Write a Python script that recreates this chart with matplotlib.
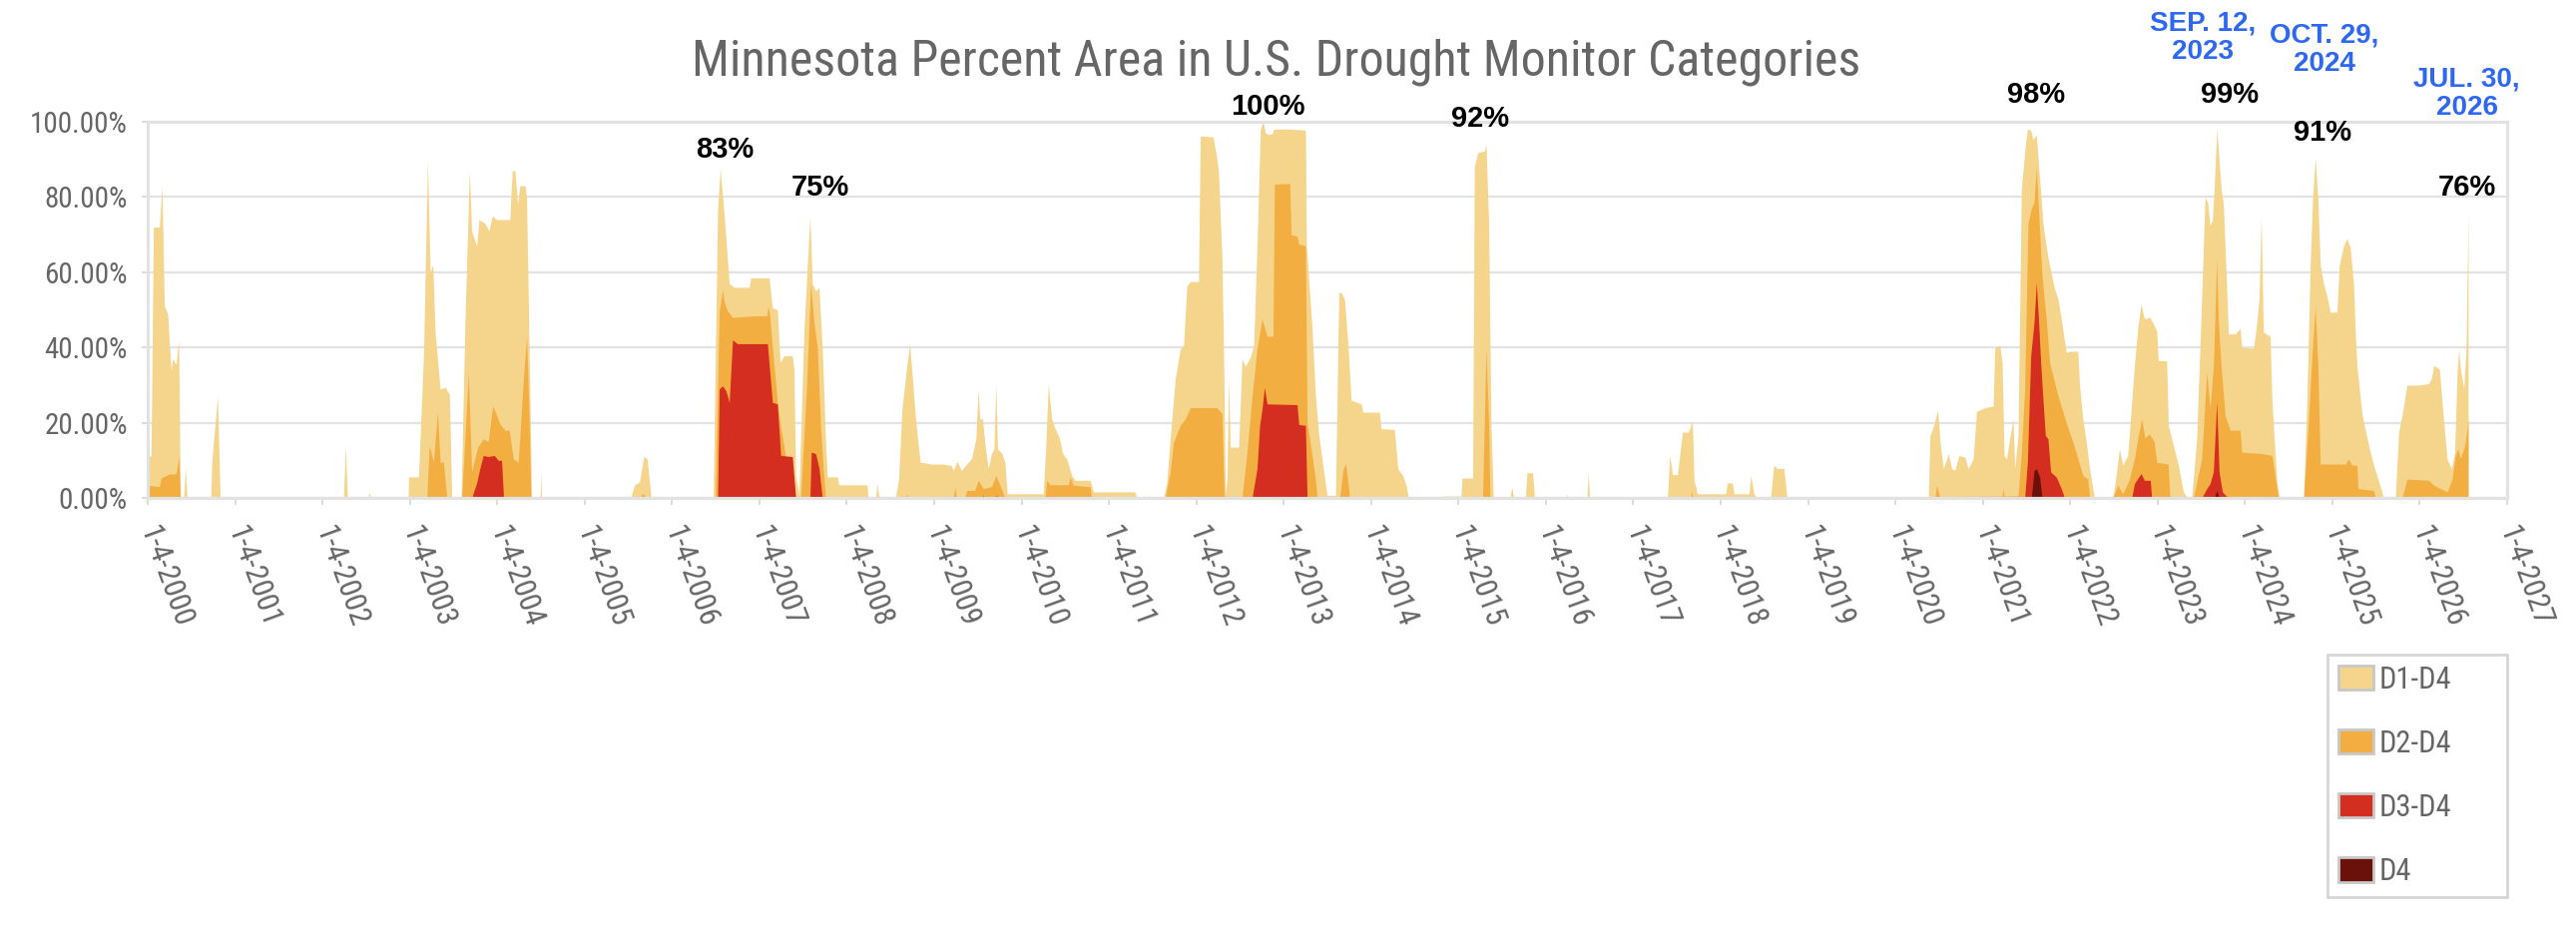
import matplotlib
matplotlib.use("Agg")
import matplotlib.pyplot as plt
from matplotlib import font_manager
from matplotlib.patches import Patch
import numpy as np

# (decimal year, percent area)
d1 = [
    (2000.000, 10.9), (2000.038, 11.3), (2000.065, 72), (2000.133, 72), (2000.163, 83), (2000.190, 51),
    (2000.228, 49), (2000.266, 34), (2000.285, 37), (2000.323, 35.5), (2000.354, 42), (2000.373, 0),
    (2000.411, 0), (2000.430, 8), (2000.449, 0),
    (2000.720, 0), (2000.734, 10), (2000.798, 27), (2000.829, 0),
    (2002.240, 0), (2002.262, 14), (2002.285, 0),
    (2002.520, 0), (2002.536, 1.5), (2002.550, 0),
    (2002.980, 0), (2002.985, 5.6), (2003.099, 5.6), (2003.156, 38), (2003.202, 90), (2003.232, 60),
    (2003.262, 62), (2003.289, 44), (2003.346, 29), (2003.403, 29.4), (2003.452, 27.6), (2003.479, 0),
    (2003.586, 0), (2003.631, 47.5), (2003.681, 87), (2003.707, 71), (2003.764, 67), (2003.791, 74),
    (2003.859, 73), (2003.905, 71), (2003.943, 75), (2003.992, 74), (2004.087, 74), (2004.144, 74),
    (2004.171, 87), (2004.202, 87), (2004.232, 78), (2004.259, 83), (2004.316, 83), (2004.335, 80),
    (2004.373, 28), (2004.392, 0),
    (2004.490, 0), (2004.498, 7), (2004.506, 0),
    (2005.525, 0), (2005.570, 3.4), (2005.627, 4.3), (2005.677, 11), (2005.715, 10.4), (2005.760, 0),
    (2006.471, 0), (2006.521, 76.6), (2006.551, 87.6), (2006.597, 75), (2006.654, 57), (2006.711, 56),
    (2006.882, 56), (2006.901, 58.5), (2007.110, 58.5), (2007.148, 50.6), (2007.205, 50), (2007.236, 36),
    (2007.281, 37.8), (2007.376, 37.8), (2007.395, 34), (2007.414, 6), (2007.452, 1), (2007.510, 45),
    (2007.578, 75), (2007.605, 57), (2007.643, 55), (2007.681, 56), (2007.719, 40), (2007.757, 15),
    (2007.776, 5.6), (2007.890, 5.6), (2007.909, 3.5), (2008.232, 3.5), (2008.243, 0),
    (2008.330, 0), (2008.346, 3.8), (2008.370, 0),
    (2008.555, 0), (2008.593, 5), (2008.631, 23.6), (2008.681, 34), (2008.719, 41), (2008.757, 30),
    (2008.783, 22), (2008.810, 15.7), (2008.840, 9.5), (2008.973, 9), (2009.100, 9), (2009.198, 8.6),
    (2009.217, 7.3), (2009.263, 9.7), (2009.312, 7.3), (2009.370, 9), (2009.427, 10.4), (2009.477, 15.7),
    (2009.503, 29), (2009.522, 21), (2009.553, 21), (2009.580, 14.4), (2009.618, 7.8), (2009.656, 11.8),
    (2009.683, 13), (2009.706, 30), (2009.725, 13), (2009.771, 12), (2009.809, 9.5), (2009.836, 1.1),
    (2010.248, 1.1), (2010.279, 14.9), (2010.306, 30.3), (2010.344, 21), (2010.382, 18.5), (2010.432, 16),
    (2010.470, 11.8), (2010.516, 10.4), (2010.573, 6), (2010.611, 4.7), (2010.783, 4.7), (2010.822, 1.6),
    (2011.299, 1.6), (2011.318, 0),
    (2011.440, 0), (2011.452, 0.8), (2011.460, 0),
    (2011.624, 0), (2011.662, 4.2), (2011.700, 15.7), (2011.758, 31.7), (2011.815, 39.6), (2011.853, 40.5),
    (2011.891, 56.4), (2011.930, 57.5), (2012.025, 57.5), (2012.044, 96.2), (2012.190, 96), (2012.228, 91.3),
    (2012.254, 86.5), (2012.293, 63.5), (2012.312, 37.8), (2012.331, 1.1), (2012.350, 5), (2012.369, 31.7),
    (2012.388, 13.5), (2012.484, 13.5), (2012.522, 37), (2012.560, 35), (2012.617, 37.4), (2012.656, 40.5),
    (2012.694, 67), (2012.732, 98), (2012.763, 100), (2012.789, 97), (2012.828, 96.6), (2012.866, 96.8),
    (2012.885, 98), (2013.019, 98.1), (2013.248, 97.8), (2013.259, 67), (2013.324, 45), (2013.363, 27),
    (2013.401, 16.6), (2013.458, 6.9), (2013.496, 0.7), (2013.592, 0.7), (2013.630, 54.6), (2013.657, 54.6),
    (2013.695, 52.8), (2013.733, 41.4), (2013.771, 26), (2013.886, 25), (2013.905, 22.8), (2014.095, 22.8),
    (2014.114, 18.4), (2014.267, 18.2), (2014.305, 7.8), (2014.362, 6), (2014.400, 3.4), (2014.427, 0),
    (2014.811, 0), (2014.815, 0.5), (2015.029, 0.5), (2015.040, 5.3), (2015.162, 5.3), (2015.181, 88),
    (2015.219, 91.8), (2015.295, 92.2), (2015.314, 94), (2015.345, 73), (2015.371, 20), (2015.398, 0),
    (2015.589, 0), (2015.611, 3), (2015.630, 0),
    (2015.764, 0), (2015.783, 6.7), (2015.848, 6.7), (2015.870, 0),
    (2016.230, 0), (2016.240, 1.1), (2016.250, 0),
    (2016.470, 0), (2016.484, 6.9), (2016.500, 0),
    (2017.390, 0), (2017.417, 11.3), (2017.448, 6.2), (2017.505, 6.2), (2017.562, 17.5), (2017.630, 17.5),
    (2017.676, 20.6), (2017.695, 4.7), (2017.733, 1.1), (2018.057, 1.1), (2018.076, 4), (2018.133, 4),
    (2018.152, 1.1), (2018.324, 1.1), (2018.343, 6), (2018.381, 1), (2018.399, 0.5), (2018.420, 0),
    (2018.570, 0), (2018.608, 8.7), (2018.646, 7.8), (2018.722, 7.9), (2018.760, 0),
    (2020.376, 0), (2020.395, 16.6), (2020.433, 18.8), (2020.483, 23.5), (2020.510, 15), (2020.548, 7.8),
    (2020.605, 11.8), (2020.643, 7.8), (2020.681, 7.4), (2020.726, 11.3), (2020.795, 10.8), (2020.833, 7.8),
    (2020.890, 10.4), (2020.928, 23), (2021.023, 24), (2021.118, 24.4), (2021.137, 40), (2021.194, 40.5),
    (2021.221, 36), (2021.243, 11.3), (2021.270, 10.4), (2021.308, 15.7), (2021.346, 21), (2021.365, 7.8),
    (2021.403, 16.6), (2021.441, 82), (2021.487, 94), (2021.510, 98), (2021.548, 97.8), (2021.574, 95.3),
    (2021.612, 96.6), (2021.650, 84.7), (2021.688, 73), (2021.738, 65), (2021.764, 61.7), (2021.821, 55.5),
    (2021.859, 53), (2021.897, 47.6), (2021.954, 38.7), (2021.992, 39), (2022.087, 39), (2022.106, 30),
    (2022.144, 21), (2022.183, 14.9), (2022.221, 7.8), (2022.259, 2.5), (2022.278, 0),
    (2022.487, 0), (2022.513, 4), (2022.563, 13), (2022.601, 8.7), (2022.658, 11.3), (2022.734, 35),
    (2022.772, 45), (2022.810, 51.5), (2022.848, 47.6), (2022.912, 48), (2022.989, 44.5), (2023.008, 36.5),
    (2023.103, 36.5), (2023.122, 19.3), (2023.237, 8.7), (2023.294, 1.6), (2023.344, 0),
    (2023.390, 0), (2023.447, 15.7), (2023.504, 53), (2023.543, 80), (2023.573, 78.6), (2023.600, 72.4),
    (2023.627, 74), (2023.649, 83), (2023.676, 98), (2023.703, 90), (2023.726, 82.6), (2023.753, 77.7),
    (2023.791, 55.6), (2023.810, 43.6), (2023.886, 43.6), (2023.944, 45), (2023.963, 40), (2024.096, 39.8),
    (2024.123, 44), (2024.161, 53), (2024.184, 74.6), (2024.211, 44), (2024.287, 43), (2024.307, 26.4),
    (2024.364, 4.2), (2024.391, 0),
    (2024.670, 0), (2024.708, 26), (2024.746, 61.8), (2024.773, 79.5), (2024.803, 90.5), (2024.834, 79.5),
    (2024.861, 61.8), (2024.899, 57), (2024.937, 53.8), (2024.975, 49.4), (2025.052, 49.4), (2025.078, 61.8),
    (2025.128, 67), (2025.166, 69), (2025.204, 66.6), (2025.243, 56.5), (2025.262, 44), (2025.281, 35),
    (2025.338, 22.4), (2025.414, 14), (2025.472, 8.7), (2025.521, 5.1), (2025.567, 1.6), (2025.586, 0),
    (2025.720, 0), (2025.758, 17.5), (2025.797, 22), (2025.854, 30), (2025.988, 30), (2026.102, 30.4),
    (2026.133, 31.7), (2026.159, 35.2), (2026.224, 34.3), (2026.255, 25.5), (2026.312, 10.4), (2026.362, 7.8),
    (2026.400, 12.2), (2026.427, 33.5), (2026.446, 39.6), (2026.465, 34.3), (2026.503, 29), (2026.530, 39.6),
    (2026.553, 76),
]

d2 = [
    (2000.000, 3.4), (2000.133, 3), (2000.152, 5.3), (2000.247, 6.4), (2000.323, 6.4), (2000.354, 11), (2000.373, 0),
    (2003.194, 0), (2003.221, 14), (2003.270, 9.5), (2003.316, 23), (2003.346, 9.5), (2003.384, 9.5), (2003.422, 0),
    (2003.593, 0), (2003.669, 33), (2003.707, 7), (2003.776, 13.5), (2003.840, 15.7), (2003.897, 15),
    (2003.947, 24.5), (2003.992, 22), (2004.030, 19.7), (2004.087, 18), (2004.137, 18), (2004.183, 10.4),
    (2004.240, 9.5), (2004.297, 31), (2004.335, 43), (2004.361, 24), (2004.384, 0),
    (2005.627, 0), (2005.665, 1.2), (2005.703, 0),
    (2006.494, 0), (2006.521, 30), (2006.540, 49.7), (2006.578, 55.4), (2006.597, 52), (2006.635, 49.7),
    (2006.692, 48), (2006.939, 48.4), (2007.084, 48.4), (2007.099, 51), (2007.118, 48.4), (2007.148, 40),
    (2007.205, 25.4), (2007.236, 20), (2007.300, 10.9), (2007.376, 10.9), (2007.414, 0),
    (2007.471, 0), (2007.540, 30), (2007.586, 57), (2007.624, 46.6), (2007.662, 40), (2007.700, 19),
    (2007.730, 7.8), (2007.757, 0),
    (2008.669, 0), (2008.688, 1), (2008.707, 0),
    (2009.220, 0), (2009.236, 3), (2009.255, 0),
    (2009.350, 0), (2009.370, 2), (2009.465, 2), (2009.503, 4.7), (2009.561, 2.5), (2009.656, 3),
    (2009.706, 6), (2009.752, 3.4), (2009.809, 0),
    (2010.267, 0), (2010.287, 4.7), (2010.325, 3.5), (2010.535, 3.5), (2010.554, 5.6), (2010.592, 3.4),
    (2010.783, 3), (2010.802, 0),
    (2011.643, 0), (2011.700, 6.9), (2011.739, 14.9), (2011.815, 19.3), (2011.872, 21), (2011.930, 24),
    (2012.235, 24), (2012.293, 22.4), (2012.319, 0),
    (2012.522, 0), (2012.579, 12.2), (2012.637, 27), (2012.694, 39.6), (2012.751, 47.6), (2012.809, 43),
    (2012.877, 43), (2012.893, 83.4), (2013.068, 83.6), (2013.084, 70), (2013.152, 69.6), (2013.172, 67.5),
    (2013.248, 67), (2013.267, 20), (2013.324, 11.3), (2013.363, 5), (2013.382, 0),
    (2013.640, 0), (2013.680, 7.8), (2013.710, 9), (2013.755, 0),
    (2015.276, 0), (2015.314, 39.6), (2015.345, 20), (2015.360, 0),
    (2017.660, 0), (2017.669, 2), (2017.680, 0),
    (2020.452, 0), (2020.471, 3.4), (2020.510, 0),
    (2020.700, 0), (2020.720, 0.4), (2021.220, 0.5), (2021.232, 2.5), (2021.245, 0.5), (2021.403, 0.6),
    (2021.441, 12.2), (2021.479, 29), (2021.517, 73), (2021.555, 77), (2021.586, 78.5), (2021.612, 88),
    (2021.639, 75.9), (2021.677, 59), (2021.726, 47.6), (2021.764, 36), (2021.802, 32.5), (2021.859, 27.2),
    (2021.954, 20), (2022.030, 14.9), (2022.144, 6), (2022.202, 5), (2022.221, 0),
    (2022.487, 0), (2022.544, 3.4), (2022.601, 1.1), (2022.677, 5), (2022.734, 10.4), (2022.772, 15.7),
    (2022.817, 21), (2022.855, 16), (2022.905, 17), (2022.960, 15), (2022.990, 9.5), (2023.120, 9), (2023.141, 0),
    (2023.409, 0), (2023.504, 10.4), (2023.562, 33.5), (2023.600, 23.7), (2023.638, 35), (2023.676, 63.5),
    (2023.695, 46.7), (2023.726, 35), (2023.772, 22), (2023.829, 18), (2023.944, 18), (2023.963, 12.2),
    (2024.192, 11.8), (2024.307, 11.3), (2024.383, 0),
    (2024.670, 0), (2024.719, 17.5), (2024.765, 37), (2024.803, 51), (2024.834, 35), (2024.861, 9),
    (2025.147, 9), (2025.185, 10.4), (2025.223, 8.7), (2025.281, 8.7), (2025.292, 2.5), (2025.472, 2), (2025.491, 0),
    (2025.797, 0), (2025.854, 5), (2026.102, 4.7), (2026.159, 3.4), (2026.236, 2.5), (2026.312, 1.6),
    (2026.370, 5), (2026.408, 11.3), (2026.438, 13), (2026.465, 10.4), (2026.515, 14), (2026.542, 18.4),
    (2026.553, 21),
]

d3 = [
    (2003.707, 0), (2003.764, 4), (2003.802, 8), (2003.840, 11.3), (2003.897, 11), (2003.966, 11.3),
    (2004.011, 10), (2004.049, 10), (2004.072, 0),
    (2006.521, 0), (2006.540, 29), (2006.578, 29.8), (2006.616, 28.5), (2006.654, 25.4), (2006.692, 42),
    (2006.749, 41), (2007.091, 41), (2007.148, 25.4), (2007.205, 25), (2007.243, 11.3), (2007.376, 11), (2007.414, 0),
    (2007.578, 0), (2007.593, 12.2), (2007.643, 11.8), (2007.681, 8), (2007.719, 0),
    (2009.550, 0), (2009.561, 0.8), (2009.570, 0), (2009.700, 0), (2009.713, 0.8), (2009.725, 0),
    (2012.637, 0), (2012.694, 7.8), (2012.724, 19.3), (2012.751, 23.5), (2012.778, 29.4), (2012.809, 25),
    (2013.152, 24.8), (2013.172, 19.5), (2013.248, 19.3), (2013.267, 0),
    (2021.479, 0), (2021.510, 9.5), (2021.548, 37.8), (2021.586, 46.7), (2021.612, 57.3), (2021.639, 46.7),
    (2021.662, 36), (2021.688, 26.3), (2021.715, 16.6), (2021.745, 15.7), (2021.776, 6.9), (2021.840, 5.6),
    (2021.897, 2.5), (2021.935, 0),
    (2022.703, 0), (2022.734, 3.8), (2022.810, 6.5), (2022.848, 4.7), (2022.916, 4.7), (2022.932, 0),
    (2023.504, 0), (2023.562, 2.5), (2023.600, 3.8), (2023.638, 7), (2023.676, 25.5), (2023.703, 7),
    (2023.741, 1.6), (2023.791, 0.4), (2024.383, 0.4), (2024.390, 0),
]

d4 = [
    (2021.555, 0), (2021.586, 7.3), (2021.612, 7.8), (2021.650, 5.6), (2021.677, 0),
    (2023.649, 0), (2023.676, 2), (2023.703, 0),
]

series_names = ["D1-D4", "D2-D4", "D3-D4", "D4"]
series_colors = ["#f5d48c", "#f3ae41", "#d32e1f", "#6b110b"]

years = list(range(2000, 2028))
year_labels = ["1-4-%d" % y for y in years]
y_ticks = [0, 20, 40, 60, 80, 100]

peak_text = ["83%", "75%", "100%", "92%", "98%", "99%", "91%", "76%"]
date_text = ["SEP. 12,\n2023", "OCT. 29,\n2024", "JUL. 30,\n2026"]

# where the callouts sit (data coords)
peak_pos = [(2006.60, 92.6), (2007.70, 82.4), (2012.82, 103.9), (2015.25, 100.7),
            (2021.61, 107.1), (2023.82, 107.1), (2024.89, 97.0), (2026.54, 82.4)]
date_pos = [(2023.52, 122.3), (2024.91, 119.1), (2026.54, 107.5)]

installed = {f.name for f in font_manager.fontManager.ttflist}


def pick(*names):
    for n in names:
        if n in installed:
            return n
    return "DejaVu Sans"


narrow = pick("Liberation Sans Narrow", "DejaVu Sans Condensed", "Roboto Condensed", "DejaVu Sans")
arial = pick("Liberation Sans", "Arial", "DejaVu Sans")
grey = "#666666"

W, H = 2581, 943
fig = plt.figure(figsize=(W / 100, H / 100), dpi=100)
ax = fig.add_axes([148 / W, 1 - 499 / H, (2512 - 148) / W, (499 - 122) / H])

for data, col in zip([d1, d2, d3, d4], series_colors):
    x, y = np.array(data).T
    ax.fill_between(x, y, 0, color=col, lw=0, zorder=2)

ax.set_xlim(2000, 2027)
ax.set_ylim(0, 100)
ax.set_axisbelow(True)
ax.yaxis.grid(True, color="#e3e3e3", lw=1.6)

ax.set_yticks(y_ticks)
ax.set_yticklabels(["%.2f%%" % v for v in y_ticks], family=narrow, fontsize=21, color=grey)
ax.set_xticks(years)
ax.set_xticklabels(year_labels, family=narrow, fontsize=22, color=grey)
for lab in ax.get_xticklabels():
    lab.set_rotation(-70)
    lab.set_rotation_mode("anchor")
    lab.set_ha("left")
    lab.set_va("center")

ax.tick_params(axis="y", length=4.5, width=1.2, color="#d6d6d6", pad=10)
ax.tick_params(axis="x", length=5, width=1.2, color="#d6d6d6", pad=16)
for s in ax.spines.values():
    s.set_color("#e2e2e2")
    s.set_linewidth(2.3)

for s, (px, py) in zip(peak_text, peak_pos):
    ax.text(px, py, s, ha="center", va="center", fontsize=21, fontweight="bold",
            family=arial, color="black", clip_on=False)
for s, (px, py) in zip(date_text, date_pos):
    ax.text(px, py, s, ha="center", va="center", fontsize=20, fontweight="bold",
            family=arial, color="#2e67f0", linespacing=1.15, clip_on=False)

fig.text(1279 / W, 1 - 62 / H, "Minnesota Percent Area in U.S. Drought Monitor Categories",
         ha="center", va="center", fontsize=36, color=grey, family=narrow)

handles = [Patch(facecolor=c, edgecolor="#c8c8c8", linewidth=2, label=n)
           for n, c in zip(series_names, series_colors)]
leg = fig.legend(handles=handles, loc="upper left",
                 bbox_to_anchor=(2332 / W, 1 - 656 / H, (2512 - 2332) / W, 0.0001),
                 mode="expand", borderaxespad=0, fancybox=False, edgecolor="#cccccc",
                 handlelength=1.15, handleheight=0.85, labelspacing=1.15, borderpad=0.35,
                 handletextpad=0.2, prop={"family": narrow, "size": 22})
leg.get_frame().set_linewidth(2)
for t in leg.get_texts():
    t.set_color(grey)

fig.savefig("out.png", dpi=100, facecolor="white")
